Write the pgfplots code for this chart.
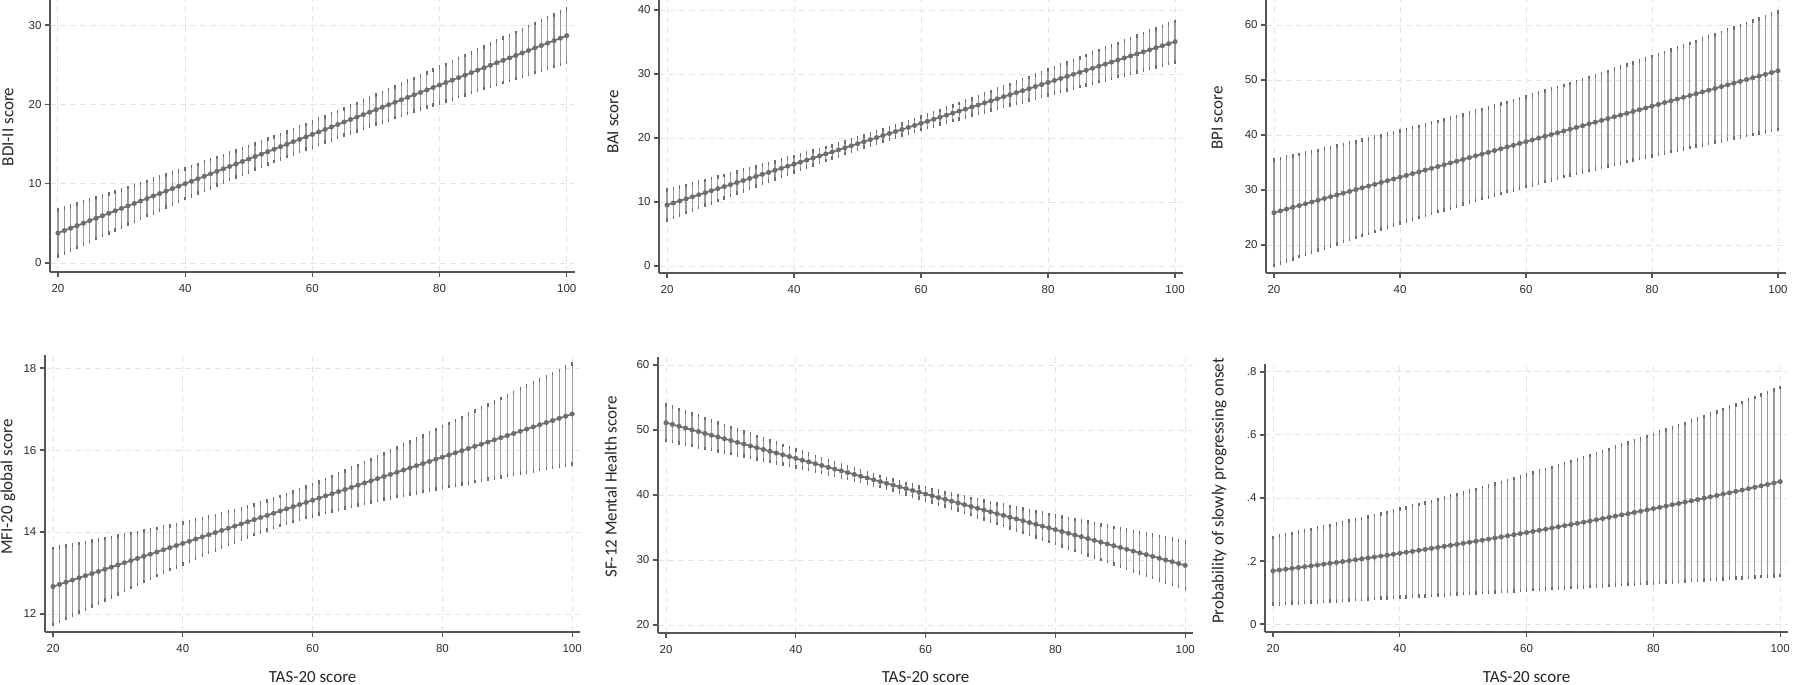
\documentclass[border=0pt]{standalone}
\usepackage{fontspec}
\setmainfont{Carlito}
\newfontfamily\tickfamily{Liberation Sans}
\usepackage{pgfplots}
\usepackage{pgfplotstable}
\pgfplotsset{compat=1.18}
\definecolor{axiscol}{RGB}{85,85,85}
\definecolor{gridcol}{RGB}{228,228,228}
\definecolor{linecol}{RGB}{110,110,110}
\definecolor{barcol}{RGB}{155,155,155}
\definecolor{capcol}{RGB}{110,110,110}
\definecolor{tickcol}{RGB}{45,45,45}
\newcommand\tickfont{\tickfamily\fontsize{11.5}{13}\selectfont}
\newcommand\labfont{\fontsize{17}{20}\selectfont}

\pgfplotstableread{
x y e
20 3.78 2.90
21 4.09 2.84
22 4.40 2.79
23 4.71 2.73
24 5.02 2.67
25 5.34 2.62
26 5.65 2.56
27 5.96 2.51
28 6.27 2.46
29 6.58 2.40
30 6.89 2.35
31 7.20 2.30
32 7.51 2.25
33 7.82 2.20
34 8.13 2.16
35 8.45 2.11
36 8.76 2.06
37 9.07 2.02
38 9.38 1.98
39 9.69 1.93
40 10.00 1.89
41 10.31 1.86
42 10.62 1.82
43 10.93 1.78
44 11.24 1.75
45 11.56 1.72
46 11.87 1.69
47 12.18 1.67
48 12.49 1.64
49 12.80 1.62
50 13.11 1.60
51 13.42 1.59
52 13.73 1.57
53 14.04 1.56
54 14.35 1.56
55 14.67 1.55
56 14.98 1.55
57 15.29 1.55
58 15.60 1.56
59 15.91 1.56
60 16.22 1.57
61 16.53 1.59
62 16.84 1.60
63 17.15 1.62
64 17.46 1.64
65 17.78 1.67
66 18.09 1.69
67 18.40 1.72
68 18.71 1.75
69 19.02 1.78
70 19.33 1.82
71 19.64 1.86
72 19.95 1.89
73 20.26 1.93
74 20.57 1.98
75 20.89 2.02
76 21.20 2.06
77 21.51 2.11
78 21.82 2.16
79 22.13 2.20
80 22.44 2.25
81 22.75 2.30
82 23.06 2.35
83 23.37 2.40
84 23.68 2.46
85 24.00 2.51
86 24.31 2.56
87 24.62 2.62
88 24.93 2.67
89 25.24 2.73
90 25.55 2.79
91 25.86 2.84
92 26.17 2.90
93 26.48 2.96
94 26.79 3.02
95 27.11 3.08
96 27.42 3.13
97 27.73 3.19
98 28.04 3.25
99 28.35 3.31
100 28.66 3.37
}\tabBDI

\pgfplotstableread{
x y e
20 9.53 2.30
21 9.85 2.24
22 10.17 2.18
23 10.49 2.12
24 10.81 2.06
25 11.13 2.00
26 11.44 1.95
27 11.76 1.89
28 12.08 1.83
29 12.40 1.77
30 12.72 1.72
31 13.04 1.66
32 13.36 1.60
33 13.68 1.55
34 14.00 1.50
35 14.32 1.44
36 14.63 1.39
37 14.95 1.34
38 15.27 1.29
39 15.59 1.24
40 15.91 1.20
41 16.23 1.15
42 16.55 1.11
43 16.87 1.07
44 17.19 1.03
45 17.51 1.00
46 17.82 0.96
47 18.14 0.94
48 18.46 0.91
49 18.78 0.89
50 19.10 0.87
51 19.42 0.86
52 19.74 0.85
53 20.06 0.85
54 20.38 0.85
55 20.70 0.86
56 21.01 0.87
57 21.33 0.89
58 21.65 0.91
59 21.97 0.94
60 22.29 0.96
61 22.61 1.00
62 22.93 1.03
63 23.25 1.07
64 23.57 1.11
65 23.89 1.15
66 24.20 1.20
67 24.52 1.24
68 24.84 1.29
69 25.16 1.34
70 25.48 1.39
71 25.80 1.44
72 26.12 1.50
73 26.44 1.55
74 26.76 1.60
75 27.08 1.66
76 27.39 1.72
77 27.71 1.77
78 28.03 1.83
79 28.35 1.89
80 28.67 1.95
81 28.99 2.00
82 29.31 2.06
83 29.63 2.12
84 29.95 2.18
85 30.27 2.24
86 30.58 2.30
87 30.90 2.36
88 31.22 2.42
89 31.54 2.48
90 31.86 2.54
91 32.18 2.60
92 32.50 2.67
93 32.82 2.73
94 33.14 2.79
95 33.46 2.85
96 33.77 2.91
97 34.09 2.98
98 34.41 3.04
99 34.73 3.10
100 35.05 3.16
}\tabBAI

\pgfplotstableread{
x y e
20 25.87 9.60
21 26.19 9.52
22 26.52 9.44
23 26.84 9.36
24 27.16 9.29
25 27.48 9.22
26 27.81 9.14
27 28.13 9.08
28 28.45 9.01
29 28.77 8.94
30 29.10 8.88
31 29.42 8.82
32 29.74 8.76
33 30.07 8.70
34 30.39 8.65
35 30.71 8.60
36 31.03 8.55
37 31.36 8.50
38 31.68 8.46
39 32.00 8.41
40 32.33 8.37
41 32.65 8.34
42 32.97 8.30
43 33.29 8.27
44 33.62 8.24
45 33.94 8.21
46 34.26 8.19
47 34.58 8.17
48 34.91 8.15
49 35.23 8.14
50 35.55 8.12
51 35.88 8.11
52 36.20 8.11
53 36.52 8.10
54 36.84 8.10
55 37.17 8.10
56 37.49 8.11
57 37.81 8.11
58 38.13 8.12
59 38.46 8.14
60 38.78 8.15
61 39.10 8.17
62 39.43 8.19
63 39.75 8.21
64 40.07 8.24
65 40.39 8.27
66 40.72 8.30
67 41.04 8.34
68 41.36 8.37
69 41.68 8.41
70 42.01 8.46
71 42.33 8.50
72 42.65 8.55
73 42.98 8.60
74 43.30 8.65
75 43.62 8.70
76 43.94 8.76
77 44.27 8.82
78 44.59 8.88
79 44.91 8.94
80 45.24 9.01
81 45.56 9.08
82 45.88 9.14
83 46.20 9.22
84 46.53 9.29
85 46.85 9.36
86 47.17 9.44
87 47.49 9.52
88 47.82 9.60
89 48.14 9.68
90 48.46 9.77
91 48.79 9.85
92 49.11 9.94
93 49.43 10.03
94 49.75 10.12
95 50.08 10.21
96 50.40 10.30
97 50.72 10.40
98 51.04 10.49
99 51.37 10.59
100 51.69 10.69
}\tabBPI

\pgfplotstableread{
x y e
20 12.670 0.930
21 12.723 0.906
22 12.775 0.883
23 12.828 0.860
24 12.881 0.837
25 12.933 0.814
26 12.986 0.791
27 13.038 0.768
28 13.091 0.746
29 13.144 0.724
30 13.196 0.702
31 13.249 0.680
32 13.302 0.658
33 13.354 0.637
34 13.407 0.616
35 13.459 0.595
36 13.512 0.575
37 13.565 0.555
38 13.617 0.536
39 13.670 0.517
40 13.723 0.498
41 13.775 0.481
42 13.828 0.464
43 13.880 0.447
44 13.933 0.432
45 13.986 0.418
46 14.038 0.404
47 14.091 0.392
48 14.144 0.382
49 14.196 0.372
50 14.249 0.364
51 14.301 0.358
52 14.354 0.354
53 14.407 0.351
54 14.459 0.350
55 14.512 0.351
56 14.565 0.354
57 14.617 0.358
58 14.670 0.364
59 14.722 0.372
60 14.775 0.382
61 14.828 0.392
62 14.880 0.404
63 14.933 0.418
64 14.986 0.432
65 15.038 0.447
66 15.091 0.464
67 15.143 0.481
68 15.196 0.498
69 15.249 0.517
70 15.301 0.536
71 15.354 0.555
72 15.407 0.575
73 15.459 0.595
74 15.512 0.616
75 15.564 0.637
76 15.617 0.658
77 15.670 0.680
78 15.722 0.702
79 15.775 0.724
80 15.828 0.746
81 15.880 0.768
82 15.933 0.791
83 15.985 0.814
84 16.038 0.837
85 16.091 0.860
86 16.143 0.883
87 16.196 0.906
88 16.249 0.930
89 16.301 0.953
90 16.354 0.977
91 16.406 1.001
92 16.459 1.024
93 16.512 1.048
94 16.564 1.072
95 16.617 1.096
96 16.670 1.120
97 16.722 1.144
98 16.775 1.169
99 16.827 1.193
100 16.880 1.217
}\tabMFI

\pgfplotstableread{
x y e
20 51.12 2.73
21 50.85 2.65
22 50.57 2.58
23 50.30 2.51
24 50.02 2.43
25 49.75 2.36
26 49.47 2.29
27 49.20 2.21
28 48.93 2.14
29 48.65 2.07
30 48.38 2.00
31 48.10 1.93
32 47.83 1.86
33 47.55 1.79
34 47.28 1.72
35 47.01 1.65
36 46.73 1.58
37 46.46 1.51
38 46.18 1.44
39 45.91 1.38
40 45.64 1.32
41 45.36 1.25
42 45.09 1.19
43 44.81 1.13
44 44.54 1.08
45 44.26 1.02
46 43.99 0.97
47 43.72 0.92
48 43.44 0.88
49 43.17 0.84
50 42.89 0.81
51 42.62 0.79
52 42.34 0.77
53 42.07 0.75
54 41.80 0.75
55 41.52 0.75
56 41.25 0.77
57 40.97 0.79
58 40.70 0.81
59 40.42 0.84
60 40.15 0.88
61 39.88 0.92
62 39.60 0.97
63 39.33 1.02
64 39.05 1.08
65 38.78 1.13
66 38.50 1.19
67 38.23 1.25
68 37.96 1.32
69 37.68 1.38
70 37.41 1.44
71 37.13 1.51
72 36.86 1.58
73 36.58 1.65
74 36.31 1.72
75 36.04 1.79
76 35.76 1.86
77 35.49 1.93
78 35.21 2.00
79 34.94 2.07
80 34.67 2.14
81 34.39 2.21
82 34.12 2.29
83 33.84 2.36
84 33.57 2.43
85 33.29 2.51
86 33.02 2.58
87 32.75 2.65
88 32.47 2.73
89 32.20 2.80
90 31.92 2.88
91 31.65 2.95
92 31.37 3.03
93 31.10 3.10
94 30.83 3.18
95 30.55 3.25
96 30.28 3.33
97 30.00 3.40
98 29.73 3.48
99 29.45 3.55
100 29.18 3.63
}\tabSF

\pgfplotstableread{
x y e
20 0.1690 0.1060
21 0.1716 0.1074
22 0.1741 0.1089
23 0.1767 0.1104
24 0.1794 0.1119
25 0.1820 0.1134
26 0.1847 0.1150
27 0.1874 0.1166
28 0.1901 0.1182
29 0.1929 0.1198
30 0.1956 0.1215
31 0.1984 0.1232
32 0.2013 0.1249
33 0.2041 0.1266
34 0.2070 0.1283
35 0.2099 0.1301
36 0.2128 0.1319
37 0.2158 0.1338
38 0.2187 0.1356
39 0.2217 0.1375
40 0.2248 0.1394
41 0.2278 0.1413
42 0.2309 0.1433
43 0.2340 0.1452
44 0.2371 0.1472
45 0.2403 0.1492
46 0.2434 0.1513
47 0.2466 0.1534
48 0.2499 0.1555
49 0.2531 0.1576
50 0.2564 0.1597
51 0.2597 0.1619
52 0.2630 0.1641
53 0.2664 0.1663
54 0.2697 0.1685
55 0.2731 0.1708
56 0.2766 0.1731
57 0.2800 0.1754
58 0.2835 0.1778
59 0.2870 0.1801
60 0.2905 0.1825
61 0.2941 0.1849
62 0.2976 0.1874
63 0.3012 0.1898
64 0.3049 0.1923
65 0.3085 0.1948
66 0.3122 0.1973
67 0.3159 0.1999
68 0.3196 0.2025
69 0.3234 0.2051
70 0.3271 0.2077
71 0.3309 0.2104
72 0.3348 0.2131
73 0.3386 0.2158
74 0.3425 0.2185
75 0.3464 0.2212
76 0.3503 0.2240
77 0.3543 0.2268
78 0.3582 0.2297
79 0.3622 0.2325
80 0.3663 0.2354
81 0.3703 0.2383
82 0.3744 0.2412
83 0.3785 0.2442
84 0.3826 0.2471
85 0.3868 0.2501
86 0.3909 0.2531
87 0.3951 0.2562
88 0.3994 0.2593
89 0.4036 0.2624
90 0.4079 0.2655
91 0.4122 0.2686
92 0.4165 0.2718
93 0.4209 0.2750
94 0.4252 0.2782
95 0.4296 0.2814
96 0.4341 0.2847
97 0.4385 0.2880
98 0.4430 0.2913
99 0.4475 0.2946
100 0.4520 0.2980
}\tabPROB

\pgfplotsset{
  panel/.style={
    scale only axis,
    anchor=south west,
    axis x line*=bottom,
    axis y line*=left,
    axis line style={line width=1.8pt, draw=axiscol, -},
    xmin=18.75, xmax=101.25,
    xtick={20,40,60,80,100},
    tick align=outside,
    major tick length=5pt,
    every tick/.style={line width=1.3pt, draw=axiscol},
    grid=major,
    major grid style={dash pattern=on 6pt off 4pt, draw=gridcol, line width=0.9pt},
    ticklabel style={font=\tickfont, text=tickcol},
    xticklabel style={yshift=-3.5pt},
    /pgf/number format/assume math mode=true,
    every axis y label/.style={rotate=90, anchor=center, font=\labfont, text=black!85},
    every axis x label/.style={anchor=north, inner sep=0pt, font=\labfont, text=black!85},
  },
  ci/.style={
    color=linecol, line width=1.6pt,
    mark=*, mark size=2.3pt, mark options={fill=linecol, draw=linecol, line width=0.4pt},
    error bars/.cd, y dir=both, y explicit,
      error bar style={line width=1.3pt, color=barcol},
      error mark options={line width=1.4pt, color=capcol, mark size=1.8pt},
  },
}

\begin{document}
\begin{tikzpicture}
\useasboundingbox (0pt,0pt) rectangle (1800pt,685pt);

% top row
\begin{axis}[panel, at={(50pt,413pt)}, width=524.7pt, height=272pt,
  ymin=-1.13, ymax=33.16, ytick={0,10,20,30},
  ylabel={BDI-II score},
  ylabel style={at={([xshift=-42pt]axis description cs:0,0.533)}}]
\addplot[ci] table[x=x, y=y, y error=e] {\tabBDI};
\end{axis}

\begin{axis}[panel, at={(659.1pt,412pt)}, width=523.9pt, height=273pt,
  ymin=-1.09, ymax=41.56, ytick={0,10,20,30,40},
  ylabel={BAI score},
  ylabel style={at={([xshift=-46pt]axis description cs:0,0.553)}}]
\addplot[ci] table[x=x, y=y, y error=e] {\tabBAI};
\end{axis}

\begin{axis}[panel, at={(1266.1pt,412pt)}, width=519.8pt, height=273pt,
  ymin=14.9, ymax=64.55, ytick={20,30,40,50,60},
  ylabel={BPI score},
  ylabel style={at={([xshift=-49pt]axis description cs:0,0.568)}}]
\addplot[ci] table[x=x, y=y, y error=e] {\tabBPI};
\end{axis}

% bottom row
\begin{axis}[panel, at={(44.9pt,53pt)}, width=535.4pt, height=277pt,
  ymin=11.56, ymax=18.32, ytick={12,14,16,18},
  ylabel={MFI-20 global score},
  ylabel style={at={([xshift=-37pt]axis description cs:0,0.523)}},
  xlabel={TAS-20 score},
  xlabel style={at={([yshift=-39pt]axis description cs:0.5,0)}}]
\addplot[ci] table[x=x, y=y, y error=e] {\tabMFI};
\end{axis}

\begin{axis}[panel, at={(657.9pt,52pt)}, width=535.4pt, height=276pt,
  ymin=18.77, ymax=61.23, ytick={20,30,40,50,60},
  ylabel={SF-12 Mental Health score},
  ylabel style={at={([xshift=-47pt]axis description cs:0,0.529)}},
  xlabel={TAS-20 score},
  xlabel style={at={([yshift=-38pt]axis description cs:0.5,0)}}]
\addplot[ci] table[x=x, y=y, y error=e] {\tabSF};
\end{axis}

\begin{axis}[panel, at={(1265.1pt,53pt)}, width=523pt, height=268pt,
  ymin=-0.025, ymax=0.825, ytick={0,0.2,0.4,0.6,0.8},
  yticklabels={0,.2,.4,.6,.8},
  ylabel={Probability of slowly progressing onset},
  ylabel style={at={([xshift=-46pt]axis description cs:0,0.526)}},
  xlabel={TAS-20 score},
  xlabel style={at={([yshift=-39pt]axis description cs:0.5,0)}}]
\addplot[ci] table[x=x, y=y, y error=e] {\tabPROB};
\end{axis}
\end{tikzpicture}
\end{document}
